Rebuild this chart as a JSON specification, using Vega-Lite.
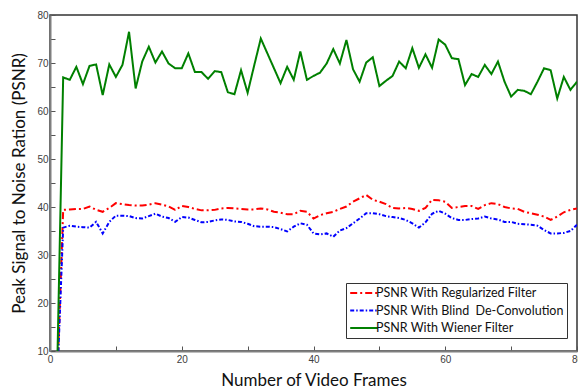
{
  "$schema": "https://vega.github.io/schema/vega-lite/v6.json",
  "width": 527,
  "height": 336,
  "autosize": "none",
  "padding": {"left": 50, "top": 15, "right": 1, "bottom": 40},
  "background": "white",
  "config": {
    "view": {"stroke": "#333333", "strokeWidth": 1.5},
    "axis": {
      "grid": false,
      "labelFont": "Liberation Sans",
      "labelFontSize": 10,
      "labelColor": "#404040",
      "labelFlush": false,
      "labelOverlap": false,
      "domainColor": "#7f7f7f",
      "domainWidth": 2,
      "tickColor": "#555555",
      "tickWidth": 1,
      "tickSize": -5,
      "titleFont": "Lato",
      "titleFontWeight": "normal",
      "titleFontSize": 17,
      "titleColor": "#111111"
    }
  },
  "data": {
    "values": [
      {"frame": 1, "reg": 0, "blind": 0, "wiener": 0},
      {"frame": 2, "reg": 39.4, "blind": 35.7, "wiener": 67.0},
      {"frame": 3, "reg": 39.5, "blind": 36.1, "wiener": 66.5},
      {"frame": 4, "reg": 39.6, "blind": 35.9, "wiener": 69.2},
      {"frame": 5, "reg": 39.6, "blind": 35.8, "wiener": 65.6},
      {"frame": 6, "reg": 40.1, "blind": 35.7, "wiener": 69.4},
      {"frame": 7, "reg": 39.4, "blind": 36.9, "wiener": 69.7},
      {"frame": 8, "reg": 39.0, "blind": 34.5, "wiener": 63.3},
      {"frame": 9, "reg": 39.8, "blind": 36.9, "wiener": 69.7},
      {"frame": 10, "reg": 40.8, "blind": 38.2, "wiener": 67.1},
      {"frame": 11, "reg": 40.6, "blind": 38.2, "wiener": 69.6},
      {"frame": 12, "reg": 40.4, "blind": 38.1, "wiener": 76.5},
      {"frame": 13, "reg": 40.3, "blind": 37.7, "wiener": 64.7},
      {"frame": 14, "reg": 40.3, "blind": 37.6, "wiener": 70.3},
      {"frame": 15, "reg": 40.5, "blind": 38.1, "wiener": 73.4},
      {"frame": 16, "reg": 40.8, "blind": 38.6, "wiener": 70.1},
      {"frame": 17, "reg": 40.5, "blind": 38.0, "wiener": 72.4},
      {"frame": 18, "reg": 40.1, "blind": 37.7, "wiener": 69.9},
      {"frame": 19, "reg": 39.4, "blind": 36.9, "wiener": 68.9},
      {"frame": 20, "reg": 40.2, "blind": 37.9, "wiener": 68.9},
      {"frame": 21, "reg": 40.0, "blind": 37.8, "wiener": 72.0},
      {"frame": 22, "reg": 39.6, "blind": 37.3, "wiener": 68.1},
      {"frame": 23, "reg": 39.3, "blind": 36.8, "wiener": 68.1},
      {"frame": 24, "reg": 39.3, "blind": 36.9, "wiener": 66.7},
      {"frame": 25, "reg": 39.4, "blind": 37.2, "wiener": 68.3},
      {"frame": 26, "reg": 39.7, "blind": 37.4, "wiener": 68.1},
      {"frame": 27, "reg": 39.8, "blind": 37.3, "wiener": 63.9},
      {"frame": 28, "reg": 39.7, "blind": 37.0, "wiener": 63.5},
      {"frame": 29, "reg": 39.6, "blind": 36.9, "wiener": 68.5},
      {"frame": 30, "reg": 39.5, "blind": 36.5, "wiener": 63.8},
      {"frame": 31, "reg": 39.5, "blind": 36.0, "wiener": 69.5},
      {"frame": 32, "reg": 39.7, "blind": 35.9, "wiener": 75.1},
      {"frame": 33, "reg": 39.5, "blind": 35.9, "wiener": 72.0},
      {"frame": 34, "reg": 39.0, "blind": 35.8, "wiener": 68.9},
      {"frame": 35, "reg": 38.8, "blind": 35.4, "wiener": 65.8},
      {"frame": 36, "reg": 38.5, "blind": 34.9, "wiener": 69.2},
      {"frame": 37, "reg": 38.5, "blind": 35.9, "wiener": 66.5},
      {"frame": 38, "reg": 39.2, "blind": 36.6, "wiener": 72.4},
      {"frame": 39, "reg": 39.0, "blind": 36.3, "wiener": 66.5},
      {"frame": 40, "reg": 37.6, "blind": 34.5, "wiener": 67.3},
      {"frame": 41, "reg": 38.3, "blind": 34.3, "wiener": 68.0},
      {"frame": 42, "reg": 38.7, "blind": 34.5, "wiener": 69.9},
      {"frame": 43, "reg": 39.0, "blind": 33.8, "wiener": 72.9},
      {"frame": 44, "reg": 39.6, "blind": 35.1, "wiener": 69.9},
      {"frame": 45, "reg": 40.1, "blind": 35.6, "wiener": 74.8},
      {"frame": 46, "reg": 41.1, "blind": 36.6, "wiener": 68.7},
      {"frame": 47, "reg": 41.8, "blind": 37.6, "wiener": 66.1},
      {"frame": 48, "reg": 42.5, "blind": 38.7, "wiener": 70.1},
      {"frame": 49, "reg": 41.5, "blind": 38.7, "wiener": 71.2},
      {"frame": 50, "reg": 41.1, "blind": 38.5, "wiener": 65.2},
      {"frame": 51, "reg": 40.6, "blind": 38.1, "wiener": 66.3},
      {"frame": 52, "reg": 39.8, "blind": 37.9, "wiener": 67.3},
      {"frame": 53, "reg": 39.7, "blind": 37.7, "wiener": 70.3},
      {"frame": 54, "reg": 39.8, "blind": 37.3, "wiener": 68.9},
      {"frame": 55, "reg": 39.6, "blind": 36.6, "wiener": 73.1},
      {"frame": 56, "reg": 39.2, "blind": 35.7, "wiener": 69.0},
      {"frame": 57, "reg": 39.8, "blind": 36.8, "wiener": 71.8},
      {"frame": 58, "reg": 41.5, "blind": 38.6, "wiener": 69.0},
      {"frame": 59, "reg": 41.4, "blind": 39.2, "wiener": 74.9},
      {"frame": 60, "reg": 41.1, "blind": 38.6, "wiener": 73.8},
      {"frame": 61, "reg": 39.8, "blind": 37.7, "wiener": 71.0},
      {"frame": 62, "reg": 40.0, "blind": 37.3, "wiener": 70.8},
      {"frame": 63, "reg": 40.2, "blind": 37.3, "wiener": 65.4},
      {"frame": 64, "reg": 40.2, "blind": 37.5, "wiener": 67.7},
      {"frame": 65, "reg": 39.6, "blind": 37.6, "wiener": 67.1},
      {"frame": 66, "reg": 40.4, "blind": 38.0, "wiener": 69.6},
      {"frame": 67, "reg": 40.8, "blind": 37.6, "wiener": 67.7},
      {"frame": 68, "reg": 40.6, "blind": 37.4, "wiener": 70.3},
      {"frame": 69, "reg": 40.0, "blind": 36.9, "wiener": 66.1},
      {"frame": 70, "reg": 39.7, "blind": 36.9, "wiener": 63.0},
      {"frame": 71, "reg": 39.6, "blind": 36.5, "wiener": 64.4},
      {"frame": 72, "reg": 39.0, "blind": 36.4, "wiener": 64.2},
      {"frame": 73, "reg": 38.7, "blind": 36.3, "wiener": 63.5},
      {"frame": 74, "reg": 38.4, "blind": 36.1, "wiener": 66.1},
      {"frame": 75, "reg": 38.0, "blind": 35.2, "wiener": 68.9},
      {"frame": 76, "reg": 37.3, "blind": 34.5, "wiener": 68.5},
      {"frame": 77, "reg": 38.0, "blind": 34.5, "wiener": 62.6},
      {"frame": 78, "reg": 38.9, "blind": 34.6, "wiener": 67.1},
      {"frame": 79, "reg": 39.4, "blind": 35.0, "wiener": 64.4},
      {"frame": 80, "reg": 39.7, "blind": 36.3, "wiener": 66.1}
    ]
  },
  "transform": [
    {"fold": ["reg", "blind", "wiener"], "as": ["method", "psnr"]}
  ],
  "mark": {"type": "line", "clip": true, "strokeWidth": 2, "interpolate": "linear"},
  "encoding": {
    "x": {
      "field": "frame",
      "type": "quantitative",
      "scale": {"domain": [0, 80], "nice": false, "zero": false},
      "axis": {
        "title": "Number of Video Frames",
        "values": [0, 10, 20, 30, 40, 50, 60, 70, 80],
        "labelExpr": "datum.value % 20 === 0 ? datum.label : ''",
        "labelPadding": 8,
        "titlePadding": 8
      }
    },
    "y": {
      "field": "psnr",
      "type": "quantitative",
      "scale": {"domain": [10, 80], "nice": false, "zero": false},
      "axis": {
        "title": "Peak Signal to Noise Ration (PSNR)",
        "values": [10, 15, 20, 25, 30, 35, 40, 45, 50, 55, 60, 65, 70, 75, 80],
        "labelExpr": "datum.value % 10 === 0 ? datum.label : ''",
        "labelPadding": 7,
        "titlePadding": 8
      }
    },
    "color": {
      "field": "method",
      "type": "nominal",
      "scale": {
        "domain": ["reg", "blind", "wiener"],
        "range": ["#ff0000", "#0000ff", "#008000"]
      },
      "legend": {
        "title": null,
        "orient": "none",
        "legendX": 296,
        "legendY": 268,
        "fillColor": "white",
        "strokeColor": "#333333",
        "padding": 3,
        "rowPadding": 3.5,
        "symbolType": "M-2.3,0H2.3",
        "symbolSize": 144,
        "symbolStrokeWidth": 2,
        "symbolOffset": 8,
        "labelOffset": 5,
        "labelFont": "Lato",
        "labelFontSize": 12.5,
        "labelColor": "#111111",
        "labelLimit": 300,
        "labelExpr": "datum.label === 'reg' ? 'PSNR With Regularized Filter' : datum.label === 'blind' ? 'PSNR With Blind\u00a0 De-Convolution' : 'PSNR With Wiener Filter'"
      }
    },
    "strokeDash": {
      "field": "method",
      "type": "nominal",
      "scale": {
        "domain": ["reg", "blind", "wiener"],
        "range": [[7, 3, 2, 3], [4, 2, 1.5, 2], [1, 0]]
      },
      "legend": null
    }
  }
}
